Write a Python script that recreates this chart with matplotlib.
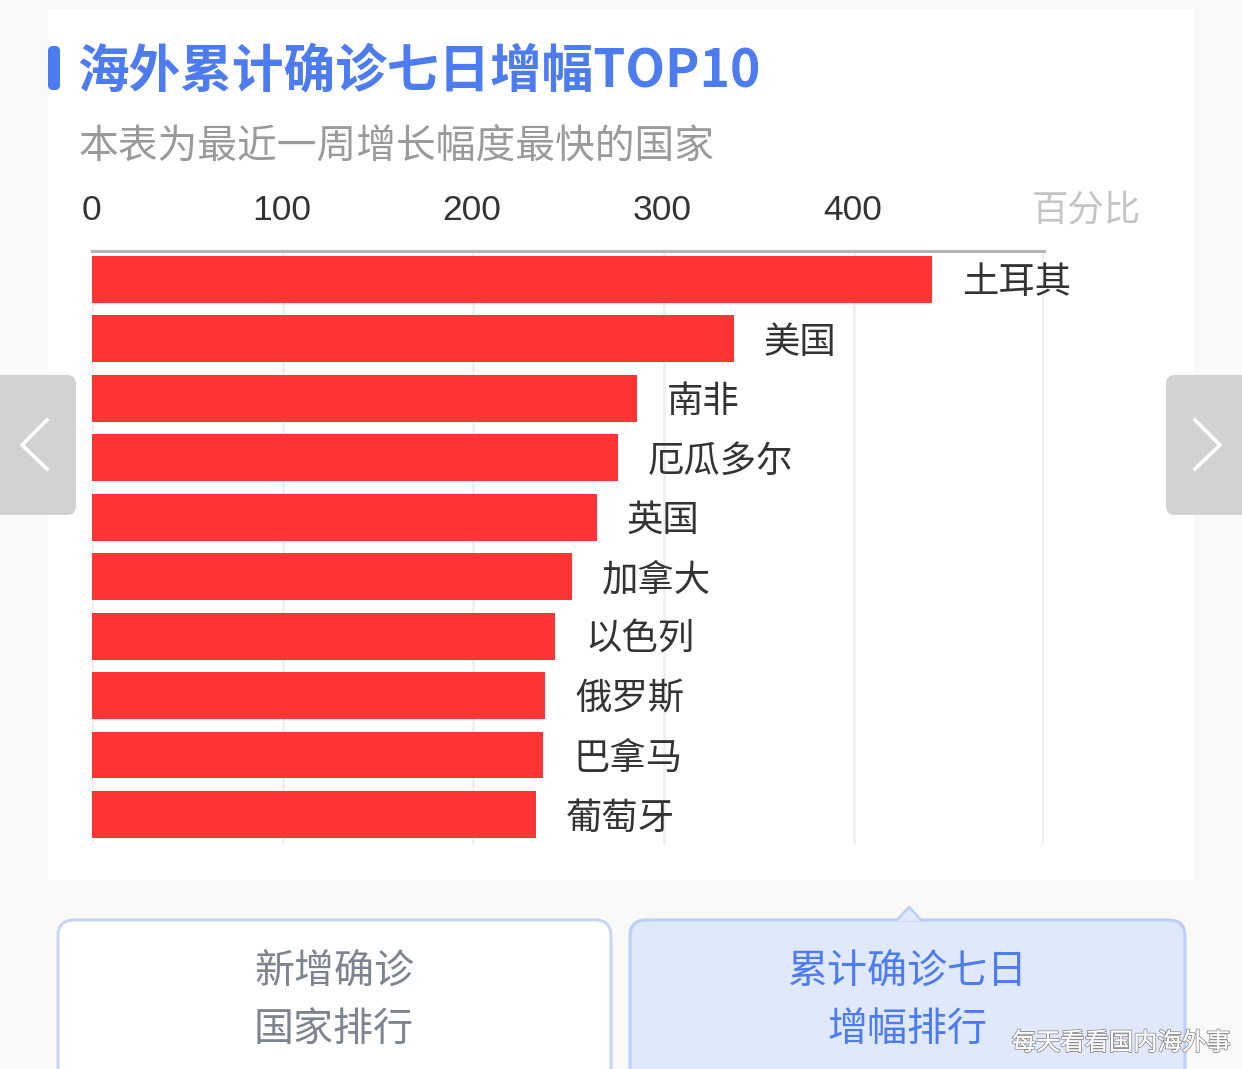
import matplotlib
matplotlib.use('Agg')
import matplotlib.pyplot as plt
import matplotlib.patheffects as pe
from matplotlib.patches import FancyBboxPatch, Polygon, Rectangle
from matplotlib.transforms import ScaledTranslation

plt.rcParams['font.family'] = ['Noto Sans CJK SC', 'DejaVu Sans']

countries = ['土耳其', '美国', '南非', '厄瓜多尔', '英国', '加拿大', '以色列', '俄罗斯', '巴拿马', '葡萄牙']
values = [441, 337, 286, 276, 265, 252, 243, 238, 237, 233]
ticks = [0, 100, 200, 300, 400]
unit = '百分比'
title = '海外累计确诊七日增幅TOP10'
subtitle = '本表为最近一周增长幅度最快的国家'
btn_left = ['新增确诊', '国家排行']
btn_right = ['累计确诊七日', '增幅排行']
watermark = '每天看看国内海外事'

W, H = 1242, 1069
fig = plt.figure(figsize=(W / 100, H / 100), dpi=100, facecolor='#f9f9f9')
bg = fig.add_axes([0, 0, 1, 1])
bg.set_xlim(0, W); bg.set_ylim(H, 0); bg.axis('off')

bg.add_patch(Rectangle((48, 10), 1146, 870, fc='white', ec='none'))
bg.add_patch(FancyBboxPatch((48, 46), 12, 44, boxstyle='round,pad=0,rounding_size=5', fc='#4d7cf0', ec='none'))
bg.text(77, 71, title, fontsize=37.2, fontweight='bold', color='#4d7cf0', va='center', ha='left')
bg.text(78, 148, subtitle, fontsize=28.6, color='#9a9a9a', va='center', ha='left')
bg.text(1141, 211, unit, fontsize=26.2, color='#c4c4c4', va='center', ha='right')

# chart axes: x 0 at px 92, 100 units = 190.5 px
x0, xr = 92, 1044
ax = fig.add_axes([x0 / W, 1 - 844 / H, (xr - x0) / W, (844 - 251) / H])
ax.set_xlim(0, (xr - x0) / 1.905)
ax.set_ylim(9.497, -0.479)
ax.patch.set_alpha(0)
for t in ticks + [499]:
    ax.axvline(t, color='#eeeeee', lw=1.8, zorder=0)
ax.barh(range(len(values)), values, height=0.79, color='#ff3535', zorder=2)
for i, (v, c) in enumerate(zip(values, countries)):
    ax.annotate(c, (v, i), xytext=(30, -4), textcoords='offset pixels', fontsize=26.2, color='#333333', va='center', ha='left')
for s in ['left', 'right', 'bottom']:
    ax.spines[s].set_visible(False)
ax.spines['top'].set_color('#b4b4b4'); ax.spines['top'].set_linewidth(2.2)
ax.xaxis.tick_top()
ax.set_xticks(ticks)
ax.set_xticklabels([str(t) for t in ticks], fontsize=25.5, color='#333333', family='Liberation Sans')
ax.tick_params(axis='x', length=0, pad=17.2)
shift = ScaledTranslation(-1.0 / 100, 0, fig.dpi_scale_trans)
for lab in ax.get_xticklabels():
    lab.set_transform(lab.get_transform() + shift)
ax.set_yticks([])

# buttons
bg.add_patch(FancyBboxPatch((58, 920), 553, 200, boxstyle='round,pad=0,rounding_size=16', fc='white', ec='#c9d6f2', lw=2.2))
bg.add_patch(FancyBboxPatch((630, 920), 555, 200, boxstyle='round,pad=0,rounding_size=16', fc='#e0e8fb', ec='#bccff6', lw=2.2))
bg.add_patch(Polygon([[897, 921], [909, 907], [921, 921]], closed=True, fc='#e0e8fb', ec='none', zorder=3))
bg.plot([897, 909, 921], [920, 907, 920], color='#bccff6', lw=1.8, zorder=4)
for i, s in enumerate(btn_left):
    bg.text(334, 973 + i * 57, s, fontsize=28.8, color='#7c8490', ha='center', va='center')
for i, s in enumerate(btn_right):
    bg.text(907, 973 + i * 57, s, fontsize=28.8, color='#4d7cf0', ha='center', va='center')

# nav arrows
bg.add_patch(FancyBboxPatch((-10, 375), 86, 140, boxstyle='round,pad=0,rounding_size=9', fc='#d2d2d2', ec='none'))
bg.add_patch(FancyBboxPatch((1166, 375), 86, 140, boxstyle='round,pad=0,rounding_size=9', fc='#d2d2d2', ec='none'))
bg.plot([47, 22, 47], [420, 445, 469], color='white', lw=2.6)
bg.plot([1195, 1220, 1195], [420, 445, 469], color='white', lw=2.6)

t = bg.text(1230, 1043, watermark, fontsize=17.5, color='white', ha='right', va='center')
t.set_path_effects([pe.withStroke(linewidth=1.4, foreground='#8f8f8f'), pe.Normal()])

fig.savefig('out.png', dpi=100, facecolor=fig.get_facecolor())
